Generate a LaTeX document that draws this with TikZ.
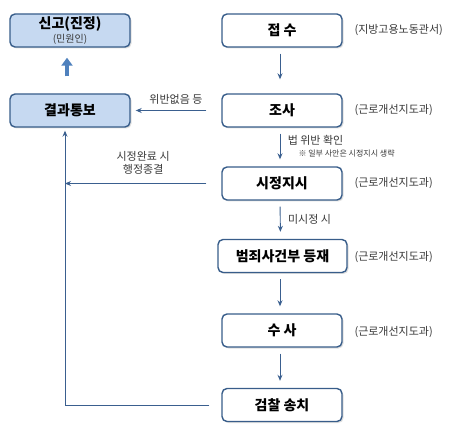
\documentclass[tikz,border=0pt]{standalone}
\usepackage{fontspec}
\setmainfont{Noto Sans CJK KR}
\usepackage{xcolor}
\usetikzlibrary{positioning,shapes,arrows.meta,calc,shadows}

\definecolor{boxline}{HTML}{385D8A}
\definecolor{boxfill}{HTML}{C6D9F1}
\definecolor{flowline}{HTML}{3A5F8F}
\definecolor{bigarrow}{HTML}{4F81BD}
\definecolor{labeltext}{HTML}{383838}

\begin{document}
\begin{tikzpicture}[x=1pt,y=-1pt,
    stagebox/.style={draw=boxline, line width=1.4pt, rounded corners=5pt, fill=white,
        minimum width=120pt, minimum height=33pt, inner sep=0pt,
        font=\fontsize{14}{16}\selectfont\bfseries,
        drop shadow={opacity=0.25, shadow xshift=1.5pt, shadow yshift=-1.5pt}},
    sidebox/.style={stagebox, fill=boxfill},
    office/.style={anchor=west, font=\fontsize{11}{13}\selectfont, text=labeltext},
    flow/.style={draw=flowline, line width=0.9pt, -{Stealth[length=6pt,width=5pt]},
        shorten <=6pt, shorten >=7pt},
    note/.style={font=\fontsize{11}{13}\selectfont, text=labeltext}]
    \useasboundingbox (0,0) rectangle (468,435);

    % left column
    \node[sidebox, align=center] (report) at (70,30.5)
        {신고(진정)\\[-2pt]{\fontsize{10}{11}\selectfont\mdseries\color{labeltext}(민원인)}};
    \node[sidebox] (result) at (70,110.5) {결과통보};

    % main flow
    \node[stagebox] (receipt) at (282,30.5) {접 수};
    \node[stagebox] (survey) at (282,110.5) {조사};
    \node[stagebox] (order) at (282,183.5) {시정지시};
    \node[stagebox, minimum width=129pt] (register) at (282.5,256) {범죄사건부 등재};
    \node[stagebox] (probe) at (282,330.5) {수 사};
    \node[stagebox] (prosecute) at (282,405) {검찰 송치};

    % offices
    \node[office] at (351,30) {(지방고용노동관서)};
    \node[office] at (351,110) {(근로개선지도과)};
    \node[office] at (351,183) {(근로개선지도과)};
    \node[office] at (351,257) {(근로개선지도과)};
    \node[office] at (351,332) {(근로개선지도과)};

    % connectors
    \draw[line width=4.5pt, draw=bigarrow, -{Triangle[length=8pt,width=11pt]},
        shorten <=17pt, shorten >=10pt] ([xshift=-3pt]result.north) -- ([xshift=-3pt]report.south);
    \draw[flow, shorten >=14pt] ([xshift=-2pt]receipt.south) -- ([xshift=-2pt]survey.north);
    \draw[flow] ([xshift=-2pt]survey.south) -- ([xshift=-2pt]order.north)
        node[pos=0.32, right=4pt, note] {법 위반 확인};
    \node[anchor=west, font=\fontsize{8}{9}\selectfont, text=labeltext] at (295,154)
        {※ 일부 사안은 시정지시 생략};
    \draw[flow] ([xshift=-2pt]order.south) -- ([xshift=-2pt]register.north)
        node[midway, right=4pt, note] {미시정 시};
    \draw[flow] ([xshift=-2.5pt]register.south) -- ([xshift=-2pt]probe.north);
    \draw[flow] ([xshift=-2pt]probe.south) -- ([xshift=-2pt]prosecute.north);

    \draw[flow, shorten <=15pt, shorten >=5pt] (survey.west) -- (result.east)
        node[midway, above=2pt, note] {위반없음 등};

    \coordinate (ret) at ([xshift=-5pt]result.south);
    \draw[flow, shorten <=12pt, shorten >=3pt] (prosecute.west) -| (ret);
    \draw[flow, shorten <=15pt, shorten >=0pt] (order.west) -- (order.west -| ret)
        node[midway, above=5pt, note, align=center] {시정완료 시\\행정종결};
\end{tikzpicture}
\end{document}
